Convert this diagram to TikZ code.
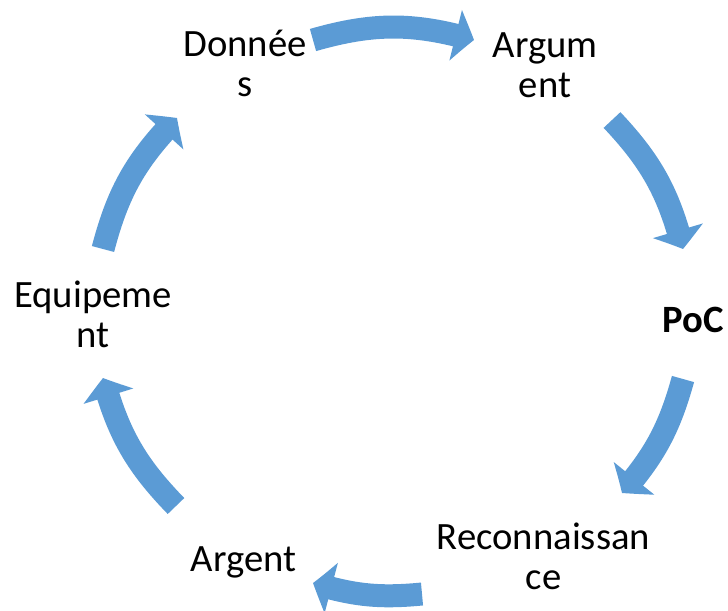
\documentclass[tikz,border=0pt]{standalone}
\usepackage{fontspec}
\setmainfont{Carlito}
\usetikzlibrary{arrows.meta, bending}
\definecolor{cycleblue}{RGB}{91,155,213}

\begin{document}
\begin{tikzpicture}[
    item/.style={align=center, inner sep=0pt, font=\fontsize{22}{22.8}\selectfont},
    cyclearrow/.style={draw=cycleblue, line width=0.46cm, -{Triangle[length=0.38cm, width=1.02cm, bend]}}]
    \clip (-7.88,-5.92) rectangle (6.68,6.28);
    \node [item] (donnees) at (-2.98,5.01) {Donnée\\s};
    \node [item] (argument) at (3.02,4.97) {Argum\\ent};
    \node [item, font=\fontsize{22}{22.8}\selectfont\bfseries] (poc) at (5.98,-0.12) {PoC};
    \node [item] (recon) at (2.99,-4.84) {Reconnaissan\\ce};
    \node [item] (argent) at (-3.01,-4.96) {Argent};
    \node [item] (equip) at (-6.02,0) {Equipeme\\nt};
    % ends of the curved arrows between the labels
    \coordinate (donnees-out) at (-1.62,5.48);
    \coordinate (argument-in) at (1.60,5.48);
    \coordinate (argument-out) at (4.36,3.88);
    \coordinate (poc-in) at (5.78,1.30);
    \coordinate (poc-out) at (5.78,-1.30);
    \coordinate (recon-in) at (4.56,-3.58);
    \coordinate (recon-out) at (0.56,-5.60);
    \coordinate (argent-in) at (-1.62,-5.38);
    \coordinate (argent-out) at (-4.36,-3.84);
    \coordinate (equip-in) at (-5.82,-1.28);
    \coordinate (equip-out) at (-5.82,1.30);
    \coordinate (donnees-in) at (-4.34,3.92);
    \draw [cyclearrow] (donnees-out) to[bend left=16] (argument-in);
    \draw [cyclearrow] (argument-out) to[bend left=14.5] (poc-in);
    \draw [cyclearrow] (poc-out) to[bend left=12.7] (recon-in);
    \draw [cyclearrow] (recon-out) to[bend left=11.2] (argent-in);
    \draw [cyclearrow] (argent-out) to[bend left=14.5] (equip-in);
    \draw [cyclearrow] (equip-out) to[bend left=14.8] (donnees-in);
\end{tikzpicture}
\end{document}
